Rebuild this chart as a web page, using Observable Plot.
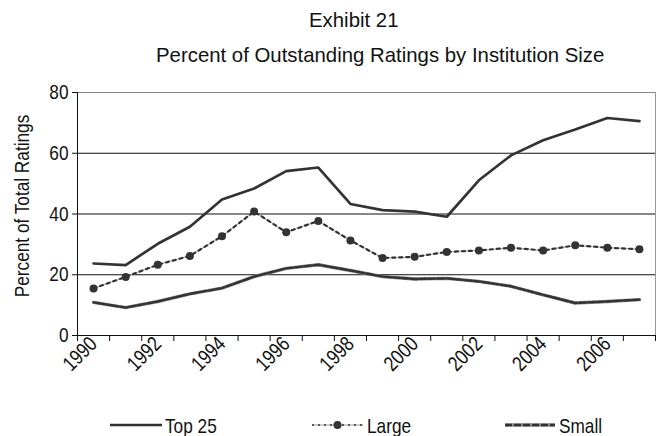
<!DOCTYPE html>
<html>
<head>
<meta charset="utf-8">
<script src="https://cdn.jsdelivr.net/npm/d3@7"></script>
<script src="https://cdn.jsdelivr.net/npm/@observablehq/plot@0.6"></script>
<style>
  html, body { margin: 0; padding: 0; background: #fff; }
  #wrap { position: relative; width: 661px; height: 436px; overflow: hidden;
    font-family: "Liberation Sans", Arial, sans-serif; color: #111; }
  .t { position: absolute; white-space: nowrap; font-size: 21px; line-height: 21px; transform-origin: 0 50%; }
  .title { transform: scaleX(0.97); }
  .narrow { transform: scaleX(0.82); }
  #chart { position: absolute; left: 0; top: 72px; }
  .leg { position: absolute; left: 0; top: 415px; height: 21px; width: 661px; }
  .leg svg { position: absolute; top: 0; overflow: visible; }
</style>
</head>
<body>
<div id="wrap">
  <div class="t title" id="title" style="left:309px; top:9px;"></div>
  <div class="t title" id="subtitle" style="left:156px; top:44px;"></div>
  <div id="chart"></div>
  <div id="legend"></div>
</div>
<script>
const title = "Exhibit 21";
const subtitle = "Percent of Outstanding Ratings by Institution Size";
const yLabel = "Percent of Total Ratings";
const years = [1990,1991,1992,1993,1994,1995,1996,1997,1998,1999,2000,2001,2002,2003,2004,2005,2006,2007];
const top25 = [23.7,23.2,30.2,35.8,44.8,48.4,54.1,55.3,43.3,41.3,40.8,39.1,51.1,59.3,64.3,67.8,71.6,70.6];
const large = [15.5,19.3,23.3,26.2,32.7,40.8,34.0,37.7,31.3,25.5,25.9,27.5,28.0,28.9,28.0,29.7,28.9,28.4];
const small = [10.9,9.2,11.2,13.7,15.6,19.4,22.1,23.3,21.4,19.4,18.6,18.8,17.8,16.2,13.4,10.7,11.2,11.8];
const yTicks = [0,20,40,60,80];
const xLabelYears = [1990,1992,1994,1996,1998,2000,2002,2004,2006];
const seriesNames = ["Top 25","Large","Small"];

document.getElementById("title").textContent = title;
document.getElementById("subtitle").textContent = subtitle;

const rows = (vals) => years.map((y, i) => ({year: y, value: vals[i]}));
const dTop = rows(top25), dLarge = rows(large), dSmall = rows(small);
const boundaries = d3.range(years.length + 1).map(i => years[0] - 0.5 + i);

const plot = Plot.plot({
  width: 661,
  height: 318,
  marginTop: 20,
  marginBottom: 55,
  marginLeft: 77,
  marginRight: 6,
  style: {fontFamily: '"Liberation Sans", Arial, sans-serif', fontSize: "21px", color: "#111", background: "#fff"},
  x: {domain: [years[0] - 0.5, years[years.length - 1] + 0.5]},
  y: {domain: [0, 80]},
  marks: [
    Plot.ruleY([20, 40, 60], {stroke: "#111", strokeWidth: 1}),
    Plot.ruleY([80], {stroke: "#888", strokeWidth: 1}),
    Plot.ruleX([boundaries[boundaries.length - 1]], {stroke: "#999", strokeWidth: 1}),
    Plot.axisX({ticks: boundaries, tickSize: 6, tickFormat: () => "", label: null, stroke: "#111"}),
    Plot.axisX({ticks: xLabelYears, tickSize: 0, tickRotate: -45, tickPadding: 5, tickFormat: d => String(d), label: null, fill: "#111"}),
    Plot.axisY({ticks: yTicks, tickSize: 5, tickPadding: 4, label: null, fill: "#111", stroke: "#111"}),
    Plot.ruleX([boundaries[0]], {stroke: "#111", strokeWidth: 1}),
    Plot.ruleY([0], {stroke: "#111", strokeWidth: 1}),
    Plot.text([yLabel], {frameAnchor: "left", textAnchor: "middle", dx: -55, dy: -8, rotate: -90, fontSize: 21, fill: "#111"}),
    // Small
    Plot.line(dSmall, {x: "year", y: "value", stroke: "#8a8a8a", strokeWidth: 3.4}),
    Plot.line(dSmall, {x: "year", y: "value", stroke: "#333", strokeWidth: 2.4, strokeDasharray: "7,2"}),
    // Large
    Plot.line(dLarge, {x: "year", y: "value", stroke: "#bbb", strokeWidth: 1.3}),
    Plot.line(dLarge, {x: "year", y: "value", stroke: "#333", strokeWidth: 2.2, strokeDasharray: "3,4"}),
    Plot.dot(dLarge, {x: "year", y: "value", r: 4, fill: "#333", stroke: "none"}),
    // Top 25
    Plot.line(dTop, {x: "year", y: "value", stroke: "#333", strokeWidth: 2.7})
  ]
});
document.getElementById("chart").appendChild(plot);

// narrow the chart's own texts (condensed look)
for (const t of plot.querySelectorAll("text")) {
  const w = t.getComputedTextLength();
  if (w > 0) {
    t.setAttribute("textLength", (w * 0.82).toFixed(2));
    t.setAttribute("lengthAdjust", "spacingAndGlyphs");
  }
}

// legend
const legendPos = [
  {lineX: 110, lineW: 52, textX: 165},
  {lineX: 312, lineW: 51, textX: 367},
  {lineX: 505, lineW: 50, textX: 559}
];
const legend = document.getElementById("legend");
seriesNames.forEach((name, i) => {
  const p = legendPos[i];
  const box = document.createElement("div");
  box.className = "leg";
  const sw = d3.create("svg").attr("width", p.lineW).attr("height", 21)
    .style("left", p.lineX + "px");
  const y = 10;
  const seg = () => sw.append("line").attr("x1", 0).attr("x2", p.lineW).attr("y1", y).attr("y2", y);
  if (i === 0) {
    seg().attr("stroke", "#333").attr("stroke-width", 2.7);
  } else if (i === 1) {
    seg().attr("stroke", "#bbb").attr("stroke-width", 1.3);
    seg().attr("stroke", "#333").attr("stroke-width", 1.6).attr("stroke-dasharray", "2,4");
    sw.append("circle").attr("cx", p.lineW / 2).attr("cy", y).attr("r", 4).attr("fill", "#333");
  } else {
    seg().attr("stroke", "#8a8a8a").attr("stroke-width", 3.4);
    seg().attr("stroke", "#333").attr("stroke-width", 2.4).attr("stroke-dasharray", "7,2");
  }
  box.appendChild(sw.node());
  const label = document.createElement("div");
  label.className = "t narrow";
  label.style.left = p.textX + "px";
  label.style.top = "0px";
  label.textContent = name;
  box.appendChild(label);
  legend.appendChild(box);
});
</script>
</body>
</html>
